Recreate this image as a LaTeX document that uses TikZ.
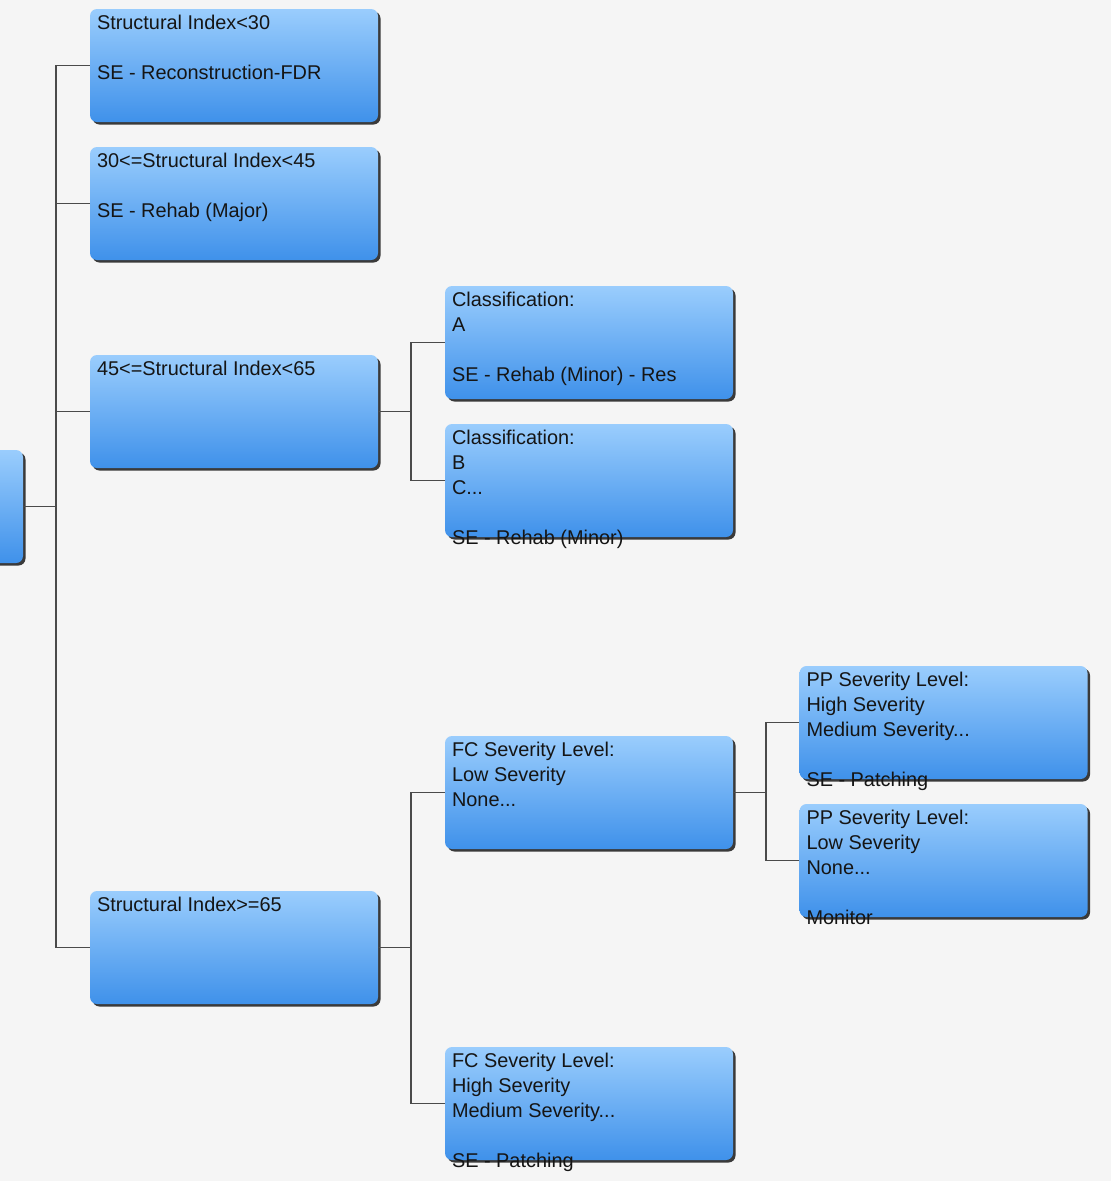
\documentclass[tikz,border=0pt]{standalone}
\usepackage{fontspec}
\setmainfont{Liberation Sans}
\usetikzlibrary{shadows}
\definecolor{bg}{HTML}{F5F5F5}
\definecolor{boxtop}{HTML}{9ACDFD}
\definecolor{boxbot}{HTML}{3F91EA}
\definecolor{shad}{HTML}{3A3A3A}
\definecolor{wire}{HTML}{4A4A4A}
\definecolor{ink}{HTML}{151515}
\tikzset{
  boxnode/.style={rounded corners=7pt, minimum width=288pt, minimum height=113pt,
    inner sep=0pt, top color=boxtop, bottom color=boxbot, draw=none,
    drop shadow={shadow xshift=2.5pt, shadow yshift=-2.5pt, fill=shad, opacity=1}},
  txt/.style={inner sep=0pt, anchor=base west, text=ink,
    font=\fontsize{19.9}{25}\selectfont},
  wirestyle/.style={draw=wire, line width=1.5pt}
}
\newcommand{\boxtext}[1]{\parbox[t]{330pt}{\raggedright #1}}
\begin{document}
\begin{tikzpicture}[x=1pt,y=-1pt]
\fill[bg] (0,0) rectangle (1111,1181);
\useasboundingbox (0,0) rectangle (1111,1181);
\clip (0,0) rectangle (1111,1181);
% boxes
\node[boxnode] (root) at (-121,506.5) {};
\node[boxnode] (b1) at (234,65.5) {};
\node[boxnode] (b2) at (234,203.5) {};
\node[boxnode] (b3) at (234,411.5) {};
\node[boxnode] (b4) at (234,947.5) {};
\node[boxnode] (ca) at (589,342.5) {};
\node[boxnode] (cb) at (589,480.5) {};
\node[boxnode] (fl) at (589,792.5) {};
\node[boxnode] (fh) at (589,1103.5) {};
\node[boxnode] (ph) at (943.5,722.5) {};
\node[boxnode] (pl) at (943.5,860.5) {};
% connectors
\draw[wirestyle] (root.east) -- ++(33,0) |- (b1.west);
\draw[wirestyle] (root.east) -- ++(33,0) |- (b2.west);
\draw[wirestyle] (root.east) -- ++(33,0) |- (b3.west);
\draw[wirestyle] (root.east) -- ++(33,0) |- (b4.west);
\draw[wirestyle] (b3.east) -- ++(33,0) |- (ca.west);
\draw[wirestyle] (b3.east) -- ++(33,0) |- (cb.west);
\draw[wirestyle] (b4.east) -- ++(33,0) |- (fl.west);
\draw[wirestyle] (b4.east) -- ++(33,0) |- (fh.west);
\draw[wirestyle] (fl.east) -- ++(33,0) |- (ph.west);
\draw[wirestyle] (fl.east) -- ++(33,0) |- (pl.west);
% texts
\node[txt] (t1) at ([xshift=7pt,yshift=-20.5pt]b1.north west) {\boxtext{Structural Index<30\\\mbox{}\\SE - Reconstruction-FDR}};
\node[txt] (t2) at ([xshift=7pt,yshift=-20.5pt]b2.north west) {\boxtext{30<=Structural Index<45\\\mbox{}\\SE - Rehab (Major)}};
\node[txt] (t3) at ([xshift=7pt,yshift=-20.5pt]b3.north west) {\boxtext{45<=Structural Index<65}};
\node[txt] (t4) at ([xshift=7pt,yshift=-20.5pt]b4.north west) {\boxtext{Structural Index>=65}};
\node[txt] (tca) at ([xshift=7pt,yshift=-20.5pt]ca.north west) {\boxtext{Classification:\\A\\\mbox{}\\SE - Rehab (Minor) - Res}};
\node[txt] (tcb) at ([xshift=7pt,yshift=-20.5pt]cb.north west) {\boxtext{Classification:\\B\\C...\\\mbox{}\\SE - Rehab (Minor)}};
\node[txt] (tfl) at ([xshift=7pt,yshift=-20.5pt]fl.north west) {\boxtext{FC Severity Level:\\Low Severity\\None...}};
\node[txt] (tfh) at ([xshift=7pt,yshift=-20.5pt]fh.north west) {\boxtext{FC Severity Level:\\High Severity\\Medium Severity...\\\mbox{}\\SE - Patching}};
\node[txt] (tph) at ([xshift=7pt,yshift=-20.5pt]ph.north west) {\boxtext{PP Severity Level:\\High Severity\\Medium Severity...\\\mbox{}\\SE - Patching}};
\node[txt] (tpl) at ([xshift=7pt,yshift=-20.5pt]pl.north west) {\boxtext{PP Severity Level:\\Low Severity\\None...\\\mbox{}\\Monitor}};
\end{tikzpicture}
\end{document}
